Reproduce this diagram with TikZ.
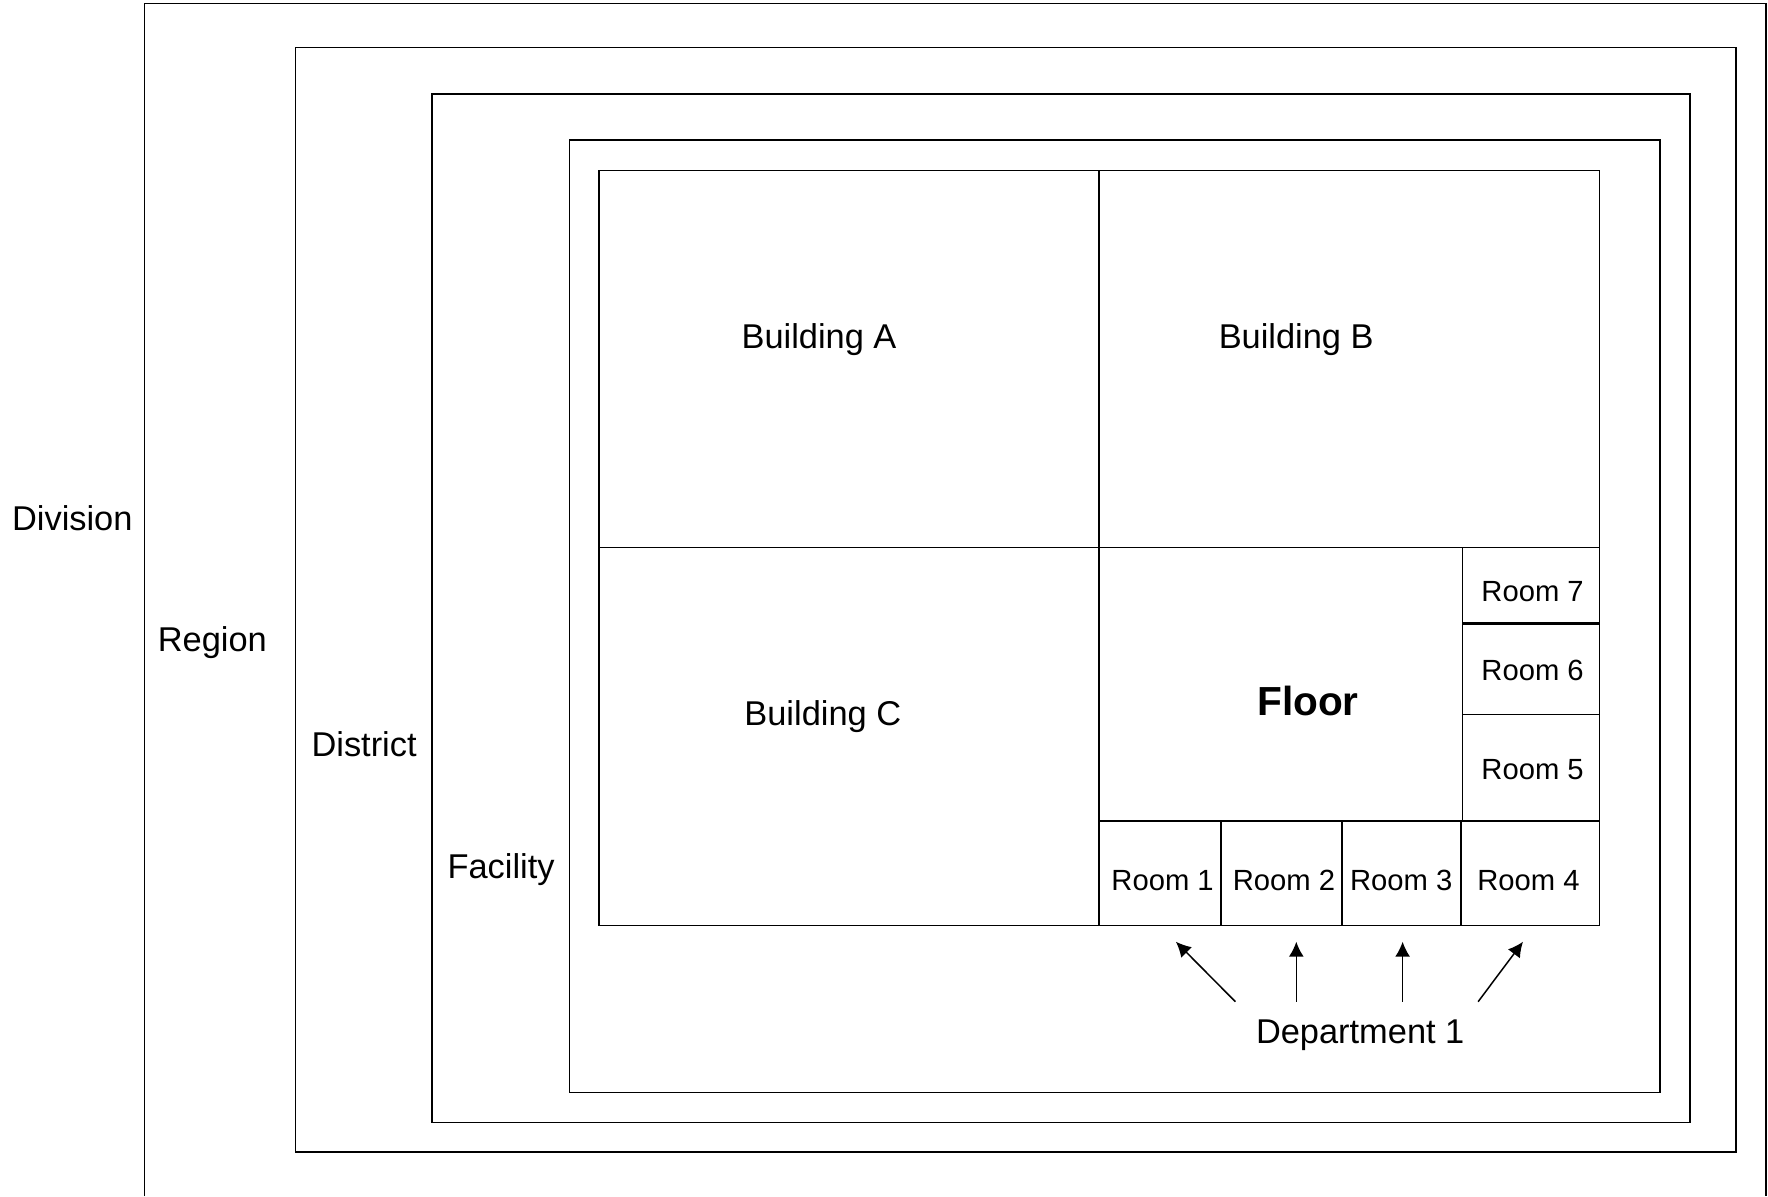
\documentclass[tikz,border=0pt]{standalone}
\usepackage{fontspec}
\setmainfont{Liberation Sans}
\usetikzlibrary{arrows.meta}
\tikzset{
  lbl/.style={anchor=base, inner sep=0pt, font=\fontsize{17.2}{20}\selectfont},
  roomlbl/.style={anchor=base, inner sep=0pt, font=\fontsize{14.6}{17}\selectfont},
  floorlbl/.style={anchor=base, inner sep=0pt, font=\fontsize{20.3}{24}\selectfont\bfseries},
  dptarrow/.style={-{Latex[length=7.5pt,width=7.5pt]}},
}
\begin{document}
\begin{tikzpicture}[x=0.5pt,y=0.5pt,yscale=-1,line width=0.75pt]
\useasboundingbox (0,0) rectangle (1768,1196);

%Shape: Division, open at the bottom
\draw (144.5,1196) -- (144.5,3.5) -- (1766,3.5) -- (1766,1196);
%Shape: Rectangle (Region)
\draw (295.5,47.5) rectangle (1736,1152);
%Shape: Rectangle (District)
\draw (432,94) rectangle (1690,1122.5);
%Shape: Rectangle (Facility)
\draw (569.5,140) rectangle (1660,1092.5);
%Shape: Rectangle (Buildings)
\draw (599,170.5) rectangle (1599.5,925.7);

%Straight Lines
\draw (1099,170.5) -- (1099,925.7);
\draw (599,547.7) -- (1599.5,547.7);
\draw (1462.5,547.7) -- (1462.5,821);
\draw (1099,821) -- (1599.5,821);
\draw [line width=1.4pt] (1462.5,623.3) -- (1599.5,623.3);
\draw (1462.5,714.3) -- (1599.5,714.3);
\draw (1221.2,821) -- (1221.2,925.7);
\draw (1342.1,821) -- (1342.1,925.7);
\draw (1461.2,821) -- (1461.2,925.7);

% Text Node
\node [lbl] (division) at (72.3,530) {Division};
% Text Node
\node [lbl] (region) at (212.4,651.7) {Region};
% Text Node
\node [lbl] (district) at (364.1,756) {District};
% Text Node
\node [lbl] (facility) at (501.1,878.3) {Facility};
% Text Node
\node [lbl] (bldgA) at (819,348.3) {Building A};
% Text Node
\node [lbl] (bldgB) at (1296.2,348.3) {Building B};
% Text Node
\node [lbl] (bldgC) at (822.8,725.7) {Building C};
% Text Node
\node [floorlbl] (floor) at (1308,715) {Floor};
% Text Node
\node [roomlbl] (room7) at (1532.6,601.7) {Room 7};
% Text Node
\node [roomlbl] (room6) at (1532.6,680) {Room 6};
% Text Node
\node [roomlbl] (room5) at (1532.6,779.3) {Room 5};
% Text Node
\node [roomlbl] (room1) at (1162.6,890) {Room 1};
% Text Node
\node [roomlbl] (room2) at (1284,890) {Room 2};
% Text Node
\node [roomlbl] (room3) at (1401.2,890) {Room 3};
% Text Node
\node [roomlbl] (room4) at (1528.5,890) {Room 4};
% Text Node
\node [lbl] (dept) at (1360.2,1043.3) {Department 1};

%Arrows from Department 1
\coordinate (tail1) at (1235.4,1001.7);
\coordinate (tip1) at (1175.9,941.7);
\coordinate (tail2) at (1296.3,1001.7);
\coordinate (tip2) at (1296.3,941.7);
\coordinate (tail3) at (1402.6,1001.7);
\coordinate (tip3) at (1402.6,941.7);
\coordinate (tail4) at (1478.1,1001.7);
\coordinate (tip4) at (1523,941.7);
\draw [dptarrow] (tail1) -- (tip1);
\draw [dptarrow] (tail2) -- (tip2);
\draw [dptarrow] (tail3) -- (tip3);
\draw [dptarrow] (tail4) -- (tip4);

\end{tikzpicture}
\end{document}
